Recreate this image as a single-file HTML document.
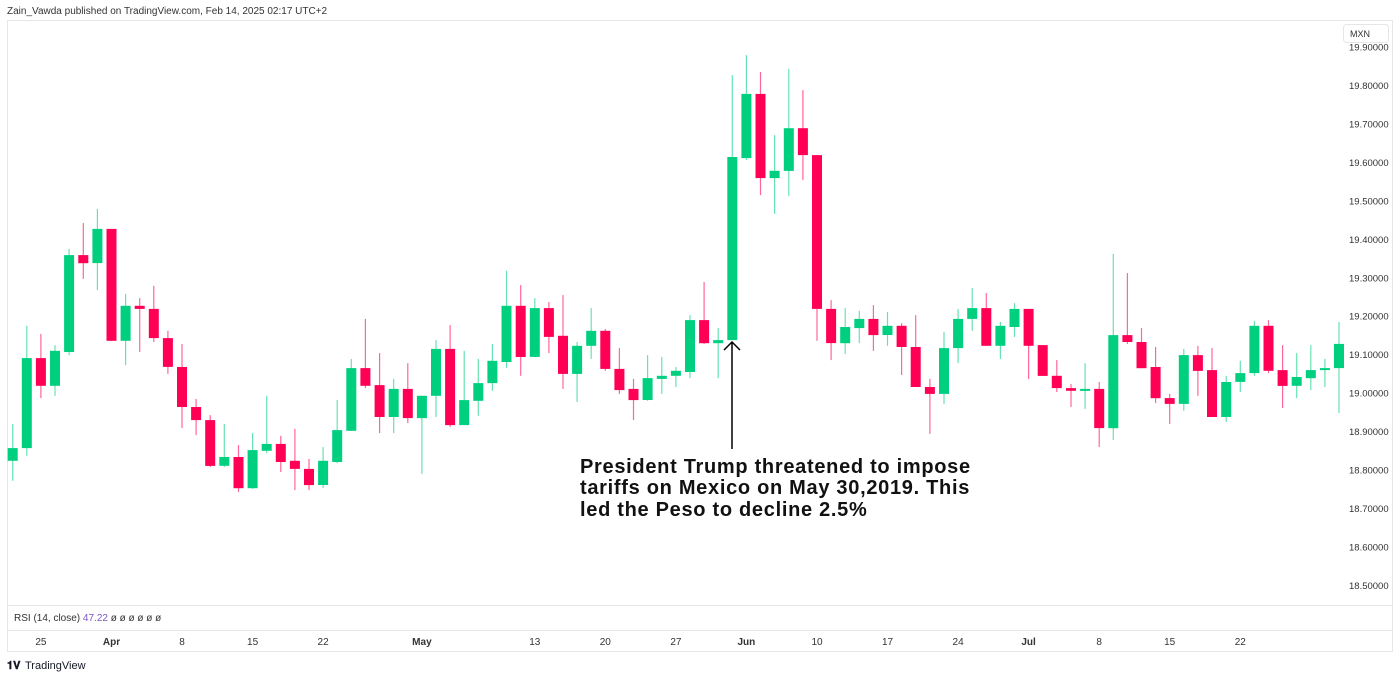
<!DOCTYPE html>
<html><head><meta charset="utf-8"><style>
html,body{margin:0;padding:0;background:#fff;width:1400px;height:679px;overflow:hidden;font-family:"Liberation Sans",sans-serif;}
</style></head><body>
<svg id="c" width="1400" height="679" viewBox="0 0 1400 679" xmlns="http://www.w3.org/2000/svg">
<text x="7" y="14" font-size="10" fill="#333">Zain_Vawda published on TradingView.com, Feb 14, 2025 02:17 UTC+2</text>
<rect x="7.5" y="20.5" width="1385" height="631" fill="none" stroke="#e6e6e6"/>
<line x1="8" y1="605.5" x2="1392" y2="605.5" stroke="#e6e6e6"/>
<line x1="8" y1="630.5" x2="1392" y2="630.5" stroke="#e6e6e6"/>
<rect x="1343.5" y="24.5" width="45" height="18" rx="3" fill="#fff" stroke="#e6e6e6"/>
<text x="1350" y="37" font-size="9" fill="#333">MXN</text>
<g id="yticks"></g><g id="xticks"></g><g id="candles"></g>
<text x="14" y="621" font-size="10" fill="#333">RSI (14, close) <tspan fill="#7e57c2">47.22</tspan>  ø  ø  ø  ø  ø  ø</text>
<line x1="732" y1="449" x2="732" y2="342" stroke="#000" stroke-width="1.5"/>
<polyline points="724,350 732,342 740,350" fill="none" stroke="#000" stroke-width="1.5"/>
<g font-size="20" font-weight="bold" fill="#111" letter-spacing="0.7">
<text x="580" y="473">President Trump threatened to impose</text>
<text x="580" y="494">tariffs on Mexico on May 30,2019. This</text>
<text x="580" y="516">led the Peso to decline 2.5%</text>
</g>
<g>
<text x="7" y="669" font-size="11" font-weight="bold" fill="#131722">𝟏𝐕</text>
<text x="25" y="669" font-size="11" fill="#131722">TradingView</text>
</g>
</svg>
<script>
const opens=[18.824,18.857,19.091,19.019,19.107,19.359,19.338,19.427,19.136,19.227,19.219,19.143,19.068,18.964,18.930,18.811,18.834,18.753,18.850,18.868,18.824,18.803,18.761,18.821,18.902,19.065,19.021,18.938,19.011,18.935,18.993,19.115,18.917,18.980,19.026,19.081,19.227,19.094,19.221,19.149,19.050,19.123,19.162,19.063,19.011,18.982,19.037,19.045,19.055,19.190,19.130,19.138,19.611,19.778,19.559,19.578,19.689,19.619,19.219,19.130,19.169,19.193,19.151,19.175,19.120,19.016,18.998,19.117,19.193,19.221,19.123,19.172,19.219,19.125,19.045,19.013,19.006,19.011,18.909,19.151,19.133,19.068,18.987,18.972,19.099,19.060,18.938,19.029,19.052,19.175,19.060,19.019,19.039,19.060,19.065];
const highs=[18.920,19.175,19.154,19.125,19.375,19.442,19.479,19.427,19.258,19.247,19.279,19.162,19.128,18.985,18.943,18.920,18.865,18.896,18.993,18.889,18.907,18.829,18.860,18.982,19.089,19.193,19.104,19.037,19.078,18.993,19.138,19.177,19.110,19.089,19.128,19.318,19.281,19.247,19.237,19.255,19.133,19.221,19.167,19.117,19.037,19.099,19.094,19.068,19.203,19.289,19.169,19.827,19.879,19.835,19.671,19.843,19.788,19.619,19.242,19.221,19.214,19.229,19.211,19.182,19.203,19.037,19.159,19.219,19.273,19.260,19.185,19.234,19.219,19.125,19.086,19.024,19.078,19.029,19.362,19.312,19.169,19.120,18.998,19.115,19.123,19.117,19.045,19.084,19.188,19.190,19.125,19.104,19.125,19.089,19.185];
const lows=[18.772,18.837,18.987,18.993,19.099,19.297,19.268,19.136,19.073,19.107,19.133,19.050,18.909,18.891,18.808,18.808,18.743,18.751,18.844,18.795,18.748,18.748,18.753,18.818,18.902,19.013,18.896,18.896,18.922,18.790,18.938,18.912,18.917,18.941,19.006,19.065,19.045,19.094,19.104,19.011,18.977,19.089,19.058,18.998,18.930,18.980,18.998,19.016,19.039,19.128,19.039,19.138,19.606,19.515,19.466,19.513,19.554,19.136,19.086,19.102,19.130,19.110,19.123,19.047,19.016,18.894,18.972,19.078,19.162,19.123,19.089,19.146,19.037,19.045,19.003,18.964,18.959,18.860,18.878,19.128,19.065,18.974,18.920,18.954,18.993,18.938,18.925,19.003,19.045,19.052,18.961,18.987,19.008,19.016,18.948];
const closes=[18.857,19.091,19.019,19.110,19.359,19.338,19.427,19.136,19.227,19.219,19.143,19.068,18.964,18.930,18.811,18.834,18.753,18.852,18.868,18.821,18.803,18.761,18.824,18.904,19.065,19.019,18.938,19.011,18.935,18.993,19.115,18.917,18.982,19.026,19.084,19.227,19.094,19.221,19.146,19.050,19.123,19.162,19.063,19.008,18.982,19.039,19.045,19.058,19.190,19.130,19.138,19.614,19.778,19.559,19.578,19.689,19.619,19.219,19.130,19.172,19.193,19.151,19.175,19.120,19.016,18.998,19.117,19.193,19.221,19.123,19.175,19.219,19.123,19.045,19.013,19.006,19.011,18.909,19.151,19.133,19.065,18.987,18.972,19.099,19.058,18.938,19.029,19.052,19.175,19.058,19.019,19.042,19.060,19.065,19.128];
const priceTicks=[19.9,19.8,19.7,19.6,19.5,19.4,19.3,19.2,19.1,19.0,18.9,18.8,18.7,18.6,18.5];
const timeLabels=["25","Apr","8","15","22","May","13","20","27","Jun","10","17","24","Jul","8","15","22"];
const timeLabelIdx=[2,7,12,17,22,29,37,42,47,52,57,62,67,72,77,82,87];

const NS="http://www.w3.org/2000/svg";
const Y0=47, PMAX=19.9, PPU=384.6, X0=12.7, DX=14.11;
function yS(p){return Y0+(PMAX-p)*PPU;}
function xS(i){return X0+i*DX;}
function mk(tag,attrs,parent){const e=document.createElementNS(NS,tag);for(const k in attrs)e.setAttribute(k,attrs[k]);parent.appendChild(e);return e;}

const yg=document.getElementById('yticks');
priceTicks.forEach(v=>{
  const t=mk('text',{x:1349,y:(yS(v)+3.5).toFixed(1),'font-size':'9.5',fill:'#333'},yg);
  
  
  t.textContent=v.toFixed(5);
});
const xg=document.getElementById('xticks');
timeLabels.forEach((l,k)=>{
  const bold=isNaN(+l);
  const t=mk('text',{x:xS(timeLabelIdx[k]).toFixed(1),y:645,'font-size':'10','text-anchor':'middle',fill:'#333','font-weight':bold?'bold':'normal'},xg);
  
  
  t.textContent=l;
});
const cg=document.getElementById('candles');
opens.forEach((o,i)=>{
  const c=closes[i], up=c>=o, col=up?'#00cf7f':'#ff0055';
  const x=xS(i);
  const g=mk('g',{},cg);
  
  
  mk('line',{x1:x.toFixed(1),x2:x.toFixed(1),y1:yS(highs[i]).toFixed(1),y2:yS(lows[i]).toFixed(1),stroke:col,'stroke-width':'1.2','stroke-opacity':'0.6'},g);
  const top=yS(Math.max(o,c)), bot=yS(Math.min(o,c));
  mk('rect',{x:(x-5).toFixed(1),y:top.toFixed(1),width:10,height:Math.max(2,bot-top).toFixed(1),fill:col},g);
});
</script>
</body></html>
